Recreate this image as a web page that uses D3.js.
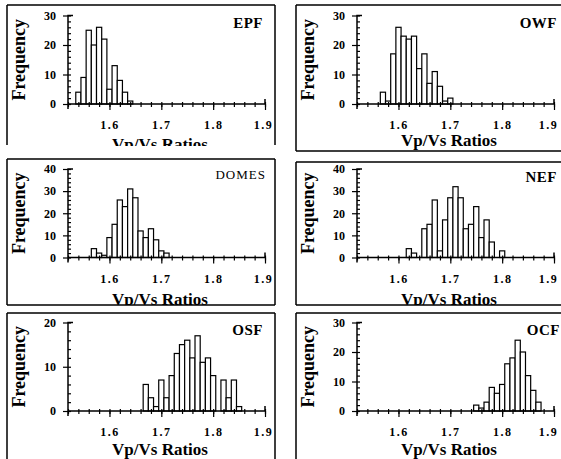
<!DOCTYPE html>
<html><head><meta charset="utf-8">
<script src="https://cdnjs.cloudflare.com/ajax/libs/d3/7.8.5/d3.min.js"></script>
<style>
body{margin:0;background:#fff;}
svg{display:block;}
text{font-family:"Liberation Serif","DejaVu Serif",serif;fill:#000;}
</style></head>
<body><div id="chart"></div>
<script>
// ---- data ----
const panelNames = ["EPF","OWF","DOMES","NEF","OSF","OCF"];
const yMaxes = [30,30,40,40,20,30];
const yMajorTicks = [[0,10,20,30],[0,10,20,30],[0,10,20,30,40],[0,10,20,30,40],[0,10,20],[0,10,20,30]];
const xTicks = [1.6,1.7,1.8,1.9];
const xTickLabels = ["1.6","1.7","1.8","1.9"];
const xLabel = "Vp/Vs Ratios";
const yLabel = "Frequency";

const epfRatios = [1.54,1.55,1.56,1.57,1.58,1.59,1.60,1.61,1.62,1.63,1.64];
const epfCounts = [4,9,25,20,26,22,5,13,8,4,1];
const owfRatios = [1.57,1.58,1.59,1.60,1.61,1.62,1.63,1.64,1.65,1.66,1.67,1.68,1.69,1.70];
const owfCounts = [4,1,17,26,23,22,23,12,17,7,11,6,1,2];
const domesRatios = [1.57,1.58,1.59,1.60,1.61,1.62,1.63,1.64,1.65,1.66,1.67,1.68,1.69,1.70,1.71];
const domesCounts = [4,2,1,9,15,26,23,31,27,12,9,13,8,3,2];
const nefRatios = [1.62,1.63,1.64,1.65,1.66,1.67,1.68,1.69,1.70,1.71,1.72,1.73,1.74,1.75,1.76,1.77,1.78,1.79,1.80];
const nefCounts = [4,2,0,13,15,26,3,17,27,32,27,13,15,23,9,17,7,0,3];
const osfRatios = [1.67,1.68,1.69,1.70,1.71,1.72,1.73,1.74,1.75,1.76,1.77,1.78,1.79,1.80,1.81,1.82,1.83,1.84,1.85];
const osfCounts = [6,3,1,7,3,8,13,15,16,12,17,11,12,8,0,7,3,7,1];
const ocfRatios = [1.75,1.76,1.77,1.78,1.79,1.80,1.81,1.82,1.83,1.84,1.85,1.86,1.87];
const ocfCounts = [2,1,3,8,6,9,16,18,24,20,12,7,3];

const ratioSets = [epfRatios,owfRatios,domesRatios,nefRatios,osfRatios,ocfRatios];
const countSets = [epfCounts,owfCounts,domesCounts,nefCounts,osfCounts,ocfCounts];
const binWidth = 0.01;

// ---- layout ----
const W = 561, H = 459;
const colLeft = [68, 357], colRight = [265, 554];
const lastLabelShift = [-2, -6];
const rowBase = [104, 257.5, 411];   // y of value 0
const plotH = 88.5;
const boxes = [
  {x0:7,  y0:5,   x1:275, y1:145, clipB:146, edges:[1,1,0,1]},
  {x0:296,y0:5,   x1:575, y1:151, clipB:151, edges:[1,0,1,1]},
  {x0:7,  y0:159, x1:275, y1:305, clipB:305, edges:[1,1,1,1]},
  {x0:296,y0:162, x1:575, y1:305, clipB:305, edges:[1,0,1,1]},
  {x0:7,  y0:313, x1:275, y1:470, clipB:470, edges:[1,1,0,1]},
  {x0:296,y0:313, x1:575, y1:470, clipB:470, edges:[1,0,0,1]}
];
const titleX = [263, 557, 266, 557, 263, 560];
const titleY = [28, 28, 179, 182, 335, 335];
const xLabelDy = [46, 42, 47, 47, 44, 44];

const svg = d3.select("#chart").append("svg").attr("width",W).attr("height",H);
const defs = svg.append("defs");

panelNames.forEach((name,i)=>{
  const col = i%2, row = Math.floor(i/2);
  const b = boxes[i];
  defs.append("clipPath").attr("id","clip"+i).append("rect")
    .attr("x",b.x0).attr("y",b.y0).attr("width",b.x1-b.x0).attr("height",b.clipB-b.y0);
  const g = svg.append("g").attr("clip-path","url(#clip"+i+")");

  const x = d3.scaleLinear().domain([1.52,1.9]).range([colLeft[col], colRight[col]]);
  const y = d3.scaleLinear().domain([0,yMaxes[i]]).range([rowBase[row], rowBase[row]-plotH]);

  const data = ratioSets[i].map((r,k)=>({r, c:countSets[i][k]})).filter(d=>d.c>0);
  g.selectAll("rect.bar").data(data).join("rect").attr("class","bar")
    .attr("x",d=>x(d.r-binWidth/2)).attr("width",d=>x(d.r+binWidth/2)-x(d.r-binWidth/2))
    .attr("y",d=>y(d.c)).attr("height",d=>y(0)-y(d.c))
    .attr("fill","#fff").attr("stroke","#000").attr("stroke-width",1.2);

  // x axis
  const minor = d3.range(1.52,1.9001,0.02).map(v=>+v.toFixed(2));
  const xa = d3.axisBottom(x).tickValues(minor).tickSize(3).tickFormat("");
  const gx = g.append("g").attr("transform",`translate(0,${rowBase[row]})`).call(xa);
  const xb = d3.axisBottom(x).tickValues(xTicks).tickSize(6).tickFormat((d,k)=>xTickLabels[k]);
  const gx2 = g.append("g").attr("transform",`translate(0,${rowBase[row]})`).call(xb);
  [gx,gx2].forEach(a=>{a.select(".domain").attr("stroke","#000").attr("stroke-width",1.5);
    a.selectAll(".tick line").attr("stroke","#000").attr("stroke-width",1.2);});
  gx.selectAll(".tick line").attr("y1",-2);
  gx2.selectAll(".tick text").attr("dy",0).attr("y",25)
    .attr("dx",(d,k)=>k===xTicks.length-1 ? lastLabelShift[col] : 0)
    .style("font-size","12px").style("font-weight","bold").style("letter-spacing","1.5px");
  gx.select(".domain").attr("d",`M${x(1.52)},0H${x(1.9)}V-5`);
  gx2.select(".domain").remove();

  // y axis
  const yMinor = d3.range(0,yMaxes[i]+0.001,2);
  const ya = d3.axisRight(y).tickValues(yMinor).tickSize(3).tickFormat("");
  const gy = g.append("g").attr("transform",`translate(${x(1.52)},0)`).call(ya);
  const yb = d3.axisLeft(y).tickValues(yMajorTicks[i]).tickSize(5).tickFormat(d3.format("d"));
  const gy2 = g.append("g").attr("transform",`translate(${x(1.52)},0)`).call(yb);
  [gy,gy2].forEach(a=>{a.select(".domain").attr("stroke","#000").attr("stroke-width",1.5);
    a.selectAll(".tick line").attr("stroke","#000").attr("stroke-width",1.2);});
  gy.select(".domain").attr("d",`M5,${y(yMaxes[i])}H0V${y(0)+5}`);
  gy2.select(".domain").remove();
  gy2.selectAll(".tick text").attr("x",-12).style("font-size","12px").style("font-weight","bold");

  // labels
  const dx = colLeft[col]-68;
  g.append("text").attr("transform",`translate(${25+dx},${(rowBase[row]*2-plotH)/2}) rotate(-90)`)
    .attr("text-anchor","middle").style("font-size","18px").style("font-weight","bold").text(yLabel);
  g.append("text").attr("x",160+dx).attr("y",rowBase[row]+xLabelDy[i])
    .attr("text-anchor","middle").style("font-size","17px").style("font-weight","bold").text(xLabel);
  g.append("text").attr("x",titleX[i]).attr("y",titleY[i]).attr("text-anchor","end")
    .style("font-size", name==="DOMES" ? "13px":"15px").style("font-weight", name==="DOMES"?"normal":"bold")
    .style("letter-spacing", name==="DOMES"?"1px":"0.5px").text(name);

  // box
  const p = d3.path();
  const e = b.edges;
  if(e[0]){p.moveTo(b.x0,b.y0);p.lineTo(b.x1,b.y0);}
  if(e[1]){p.moveTo(b.x1,b.y0);p.lineTo(b.x1,b.y1);}
  if(e[2]){p.moveTo(b.x0,b.y1);p.lineTo(b.x1,b.y1);}
  if(e[3]){p.moveTo(b.x0,b.y0);p.lineTo(b.x0,b.y1);}
  svg.append("path").attr("d",p.toString()).attr("fill","none").attr("stroke","#000").attr("stroke-width",1.5);
});
</script></body></html>
